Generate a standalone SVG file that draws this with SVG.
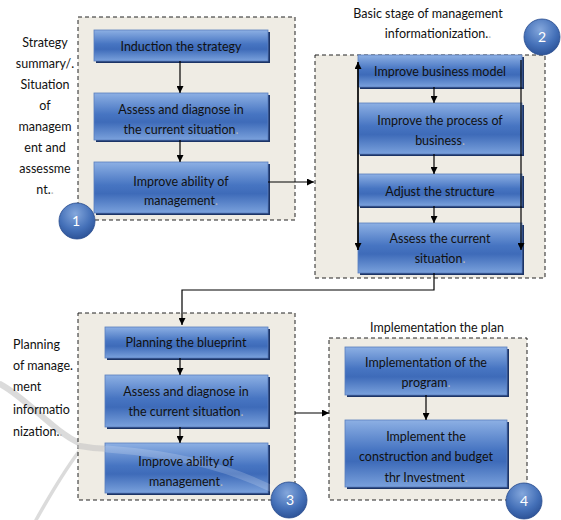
<svg xmlns="http://www.w3.org/2000/svg" width="561" height="520" viewBox="0 0 561 520">
<defs>
<linearGradient id="bg" x1="0" y1="0" x2="0" y2="1">
<stop offset="0" stop-color="#8db0e4"/>
<stop offset="0.45" stop-color="#4775c2"/>
<stop offset="0.62" stop-color="#3e6bb9"/>
<stop offset="1" stop-color="#7aa1dc"/>
</linearGradient>
<radialGradient id="cg" cx="0.45" cy="0.3" r="0.75">
<stop offset="0" stop-color="#84a7dc"/>
<stop offset="0.6" stop-color="#4470b8"/>
<stop offset="1" stop-color="#294e92"/>
</radialGradient>
<marker id="ah" viewBox="0 0 10 10" refX="10" refY="5" markerWidth="7" markerHeight="7" markerUnits="userSpaceOnUse" orient="auto">
<path d="M0,0 L10,5 L0,10 Z" fill="#000"/>
</marker>
</defs>
<style>
.panel{fill:#efece4;stroke:#222;stroke-width:1;stroke-dasharray:4 3}
.box{fill:url(#bg);stroke:#5a7ebd;stroke-width:0.8}
.sh{fill:#1c3466}
.t{font-family:Lato,"Open Sans",sans-serif;font-size:12.5px;fill:#111;text-anchor:middle}
.l{font-family:Lato,"Open Sans",sans-serif;font-size:12.5px;fill:#111}
.m{fill:#b8b8b8}
.c{fill:url(#cg);stroke:#2a4c8e;stroke-width:0.8}
.n{font-family:Lato,"Open Sans",sans-serif;font-size:14px;fill:#fff;text-anchor:middle}
.ln{fill:none;stroke:#000;stroke-width:1.2}
.wm{fill:none;stroke:#c4c4c4;stroke-linecap:round}
</style>

<g id="watermark-back" opacity="0.6">
<path class="wm" stroke-width="6" d="M0,384 C30,400 60,440 90,447"/>
<path class="wm" stroke-width="3.5" d="M80,450 C65,470 50,495 36,520"/>
</g>

<g id="panel1">
<rect class="panel" x="78" y="17" width="217" height="203"/>
<text class="t" x="45"><tspan x="45" y="47">Strategy</tspan><tspan x="45" y="68">summary/.</tspan><tspan x="45" y="89">Situation</tspan><tspan x="45" y="110">of</tspan><tspan x="45" y="131">managem</tspan><tspan x="45" y="152">ent and</tspan><tspan x="45" y="173">assessme</tspan><tspan x="45" y="194">nt.<tspan class="m">.</tspan></tspan></text>
</g>
<g id="n1a"><rect class="sh" x="96" y="32" width="174" height="31"/><rect class="box" x="94" y="30" width="174" height="31"/><text class="t" x="181" y="51">Induction the strategy</text></g>
<g id="n1b"><rect class="sh" x="96" y="95" width="174" height="47"/><rect class="box" x="94" y="93" width="174" height="47"/><text class="t"><tspan x="181" y="114">Assess and diagnose in</tspan><tspan x="181" y="134">the current situation<tspan class="m">.</tspan></tspan></text></g>
<g id="n1c"><rect class="sh" x="96" y="164" width="174" height="51"/><rect class="box" x="94" y="162" width="174" height="51"/><text class="t"><tspan x="181" y="186">Improve ability of</tspan><tspan x="181" y="205">management<tspan class="m">.</tspan></tspan></text></g>
<g id="c1"><circle class="c" cx="77" cy="221" r="18"/><text class="n" x="76" y="226">1</text></g>

<g id="panel2">
<rect class="panel" x="315" y="55" width="230" height="223"/>
<text class="t"><tspan x="428" y="18">Basic stage of management</tspan><tspan x="438" y="38">informationization.<tspan class="m">.</tspan></tspan></text>
</g>
<g id="n2a"><rect class="sh" x="360" y="57" width="164" height="32"/><rect class="box" x="358" y="55" width="164" height="32"/><text class="t" x="440" y="76">Improve business model</text></g>
<g id="n2b"><rect class="sh" x="360" y="105" width="164" height="51"/><rect class="box" x="358" y="103" width="164" height="51"/><text class="t"><tspan x="440" y="125">Improve the process of</tspan><tspan x="440" y="145">business<tspan class="m">.</tspan></tspan></text></g>
<g id="n2c"><rect class="sh" x="360" y="176" width="164" height="32"/><rect class="box" x="358" y="174" width="164" height="32"/><text class="t" x="440" y="196">Adjust the structure</text></g>
<g id="n2d"><rect class="sh" x="360" y="225" width="164" height="50"/><rect class="box" x="358" y="223" width="164" height="50"/><text class="t"><tspan x="440" y="243">Assess the current</tspan><tspan x="440" y="263">situation<tspan class="m">.</tspan></tspan></text></g>
<g id="c2"><circle class="c" cx="542" cy="37" r="18"/><text class="n" x="542" y="42">2</text></g>

<g id="panel3">
<rect class="panel" x="78" y="313" width="217" height="187"/>
<path class="wm" stroke-width="6" opacity="0.6" d="M80,446 C90,448 100,449 110,449"/>
<text class="l"><tspan x="13" y="349">Planning</tspan><tspan x="13" y="370">of manage.</tspan><tspan x="13" y="391">ment</tspan><tspan x="13" y="414">informatio</tspan><tspan x="13" y="436">nization.<tspan class="m">.</tspan></tspan></text>
</g>
<g id="n3a"><rect class="sh" x="107" y="329" width="163" height="31"/><rect class="box" x="105" y="327" width="163" height="31"/><text class="t" x="186" y="347">Planning the blueprint</text></g>
<g id="n3b"><rect class="sh" x="107" y="377" width="163" height="52"/><rect class="box" x="105" y="375" width="163" height="52"/><text class="t"><tspan x="186" y="396">Assess and diagnose in</tspan><tspan x="186" y="416">the current situation<tspan class="m">.</tspan></tspan></text></g>
<g id="n3c"><rect class="sh" x="107" y="445" width="163" height="50"/><rect class="box" x="105" y="443" width="163" height="50"/>
<path fill="none" stroke="#ffffff" stroke-width="7" stroke-opacity="0.18" stroke-linecap="round" d="M107,449 C160,453 225,462 290,498"/>
<text class="t"><tspan x="186" y="466">Improve ability of</tspan><tspan x="186" y="486">management<tspan class="m">.</tspan></tspan></text></g>

<g id="panel4">
<rect class="panel" x="329" y="338" width="198" height="162"/>
<text class="t" x="437" y="332">Implementation the plan</text>
</g>
<g id="n4a"><rect class="sh" x="347" y="349" width="162" height="48"/><rect class="box" x="345" y="347" width="162" height="48"/><text class="t"><tspan x="426" y="367">Implementation of the</tspan><tspan x="426" y="387">program<tspan class="m">.</tspan></tspan></text></g>
<g id="n4b"><rect class="sh" x="347" y="422" width="162" height="67"/><rect class="box" x="345" y="420" width="162" height="67"/><text class="t"><tspan x="426" y="441">Implement the</tspan><tspan x="426" y="461">construction and budget</tspan><tspan x="426" y="482">thr Investment<tspan class="m">.</tspan></tspan></text></g>

<g id="c3"><circle class="c" cx="289" cy="500" r="18"/><text class="n" x="290" y="505">3</text></g>
<g id="c4"><circle class="c" cx="524" cy="501" r="18"/><text class="n" x="524" y="506">4</text></g>

<g id="connectors">
<line class="ln" x1="180" y1="61" x2="180" y2="93" marker-end="url(#ah)"/>
<line class="ln" x1="180" y1="140" x2="180" y2="162" marker-end="url(#ah)"/>
<line class="ln" x1="268" y1="182" x2="314" y2="182" marker-end="url(#ah)"/>
<line class="ln" x1="434" y1="87" x2="434" y2="103" marker-end="url(#ah)"/>
<line class="ln" x1="434" y1="154" x2="434" y2="174" marker-end="url(#ah)"/>
<line class="ln" x1="434" y1="206" x2="434" y2="223" marker-end="url(#ah)"/>
<line class="ln" x1="358" y1="250" x2="358" y2="62" marker-end="url(#ah)"/>
<line class="ln" x1="358" y1="62" x2="358" y2="250" marker-end="url(#ah)"/>
<line class="ln" x1="521" y1="60" x2="521" y2="250" marker-end="url(#ah)"/>
<polyline class="ln" points="434,273 434,290 182,290 182,325" marker-end="url(#ah)"/>
<line class="ln" x1="180" y1="358" x2="180" y2="375" marker-end="url(#ah)"/>
<line class="ln" x1="180" y1="427" x2="180" y2="443" marker-end="url(#ah)"/>
<line class="ln" x1="295" y1="413" x2="329" y2="413" marker-end="url(#ah)"/>
<line class="ln" x1="426" y1="395" x2="426" y2="420" marker-end="url(#ah)"/>
</g>
</svg>
